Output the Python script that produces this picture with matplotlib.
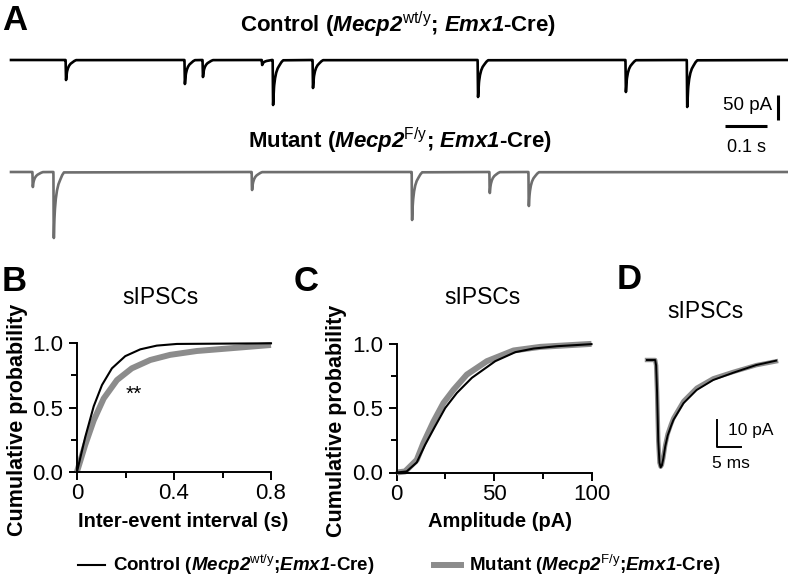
import matplotlib
matplotlib.use("Agg")
import matplotlib.pyplot as plt
from matplotlib.lines import Line2D
import numpy as np

plt.rcParams['font.family'] = ['Liberation Sans', 'DejaVu Sans']
plt.rcParams['mathtext.fontset'] = 'custom'
plt.rcParams['mathtext.rm'] = 'Liberation Sans'
plt.rcParams['mathtext.bf'] = 'Liberation Sans:bold'
plt.rcParams['mathtext.bfit'] = 'Liberation Sans:style=italic:weight=bold'

W, H = 788, 576

# ---- data ----
# A: example traces, events (time s, amplitude pA)
ctrl_times = [0.131, 0.414, 0.457, 0.598, 0.624, 0.719, 1.112, 1.464, 1.610]
ctrl_amps = [40, 48, 34, 10, 90, 56, 74, 64, 94]
mut_times = [0.052, 0.102, 0.574, 0.955, 1.140, 1.233]
mut_amps = [30, 132, 36, 96, 42, 68]
trace_len = 1.848

# B: cumulative inter-event interval (s)
iei_ctrl_x = [0, 0.034, 0.069, 0.103, 0.144, 0.199, 0.261, 0.329, 0.412, 0.8]
iei_ctrl_y = [0, 0.27, 0.51, 0.675, 0.805, 0.90, 0.953, 0.982, 0.995, 1.0]
iei_mut_x = [0, 0.034, 0.069, 0.11, 0.165, 0.226, 0.302, 0.384, 0.494, 0.631, 0.8]
iei_mut_y = [0, 0.21, 0.40, 0.57, 0.714, 0.805, 0.87, 0.91, 0.94, 0.961, 0.987]

# C: cumulative amplitude (pA)
amp_ctrl_x = [0, 5.1, 10.3, 14.6, 19.7, 24.9, 30.9, 38.6, 50.6, 60.9, 70.3, 82.3, 100]
amp_ctrl_y = [0, 0.008, 0.078, 0.215, 0.358, 0.50, 0.617, 0.734, 0.863, 0.933, 0.961, 0.979, 0.995]
amp_mut_x = [0, 4.3, 10.3, 13.7, 18.9, 24.0, 29.2, 36.0, 46.3, 60.0, 73.8, 100]
amp_mut_y = [0, 0.008, 0.098, 0.228, 0.396, 0.539, 0.642, 0.759, 0.863, 0.946, 0.974, 0.997]

# D: averaged sIPSC (ms, pA)
avg_t = [0, 1.7, 1.9, 2.1, 2.35, 2.6, 2.85, 3.1, 3.4, 3.8, 4.3, 5.0, 5.5, 7.6, 10.35, 13.8, 18.0, 22.8, 26.9]
avg_ctrl = [0, 0, -2, -12, -30, -38, -39.7, -39, -36.5, -32, -28, -24.5, -22.2, -16.0, -11.1, -7.4, -4.7, -1.85, -0.25]
avg_mut = [0, 0, -2, -12, -30, -38, -39.5, -38.8, -36.2, -31.5, -27.4, -23.8, -21.5, -15.2, -10.3, -6.8, -4.4, -1.9, -0.5]

ctrl_lbl = r'Control ($\mathbfit{Mecp2}^{\mathrm{wt/y}}$; $\mathbfit{Emx1}$-Cre)'
mut_lbl = r'Mutant ($\mathbfit{Mecp2}^{\mathrm{F/y}}$; $\mathbfit{Emx1}$-Cre)'
ctrl_leg = r'Control ($\mathbfit{Mecp2}^{\mathrm{wt/y}}$;$\mathbfit{Emx1}$-Cre)'
mut_leg = r'Mutant ($\mathbfit{Mecp2}^{\mathrm{F/y}}$;$\mathbfit{Emx1}$-Cre)'

BLACK = '#000000'
GRAY_TR = '#6e6e6e'
GRAY = '#8c8c8c'


def fx(x):
    return x / W


def fy(y):
    return 1 - y / H


def build_trace(times, amps, t_end):
    # each event drawn with the averaged sIPSC shape from panel D
    tt = np.array(avg_t) / 1000.0
    shape = np.array(avg_ctrl) / min(avg_ctrl)
    peak = tt[np.argmax(shape)]
    ts, ys = [0.0], [0.0]
    for i, (t0, a) in enumerate(zip(times, amps)):
        start = t0 - peak
        nxt = times[i + 1] - peak if i + 1 < len(times) else t_end
        seg = start + tt
        keep = seg < nxt
        ts.extend(seg[keep])
        ys.extend(-a * shape[keep])
    ts.append(t_end)
    ys.append(0.0)
    return np.array(ts), np.array(ys)


fig = plt.figure(figsize=(W / 100, H / 100), dpi=100)

# ---- panel A ----
axA = fig.add_axes([0, fy(250), 1, (250 - 40) / H])
axA.set_xlim(-11 / 420, 777 / 420)
axA.set_ylim(-380, 40)
axA.axis('off')
t, y = build_trace(ctrl_times, ctrl_amps, trace_len)
axA.plot(t, y, color=BLACK, lw=1.9)
t, y = build_trace(mut_times, mut_amps, trace_len)
axA.plot(t, y - 224, color=GRAY_TR, lw=1.9)
# scale bars
axA.plot([1.826, 1.826], [-70, -120], color=BLACK, lw=2.2, solid_capstyle='butt')
axA.plot([1.700, 1.800], [-132, -132], color=BLACK, lw=2.2, solid_capstyle='butt')
axA.text(1.812, -92, '50 pA', ha='right', va='center', fontsize=13.5)
axA.text(1.750, -176, '0.1 s', ha='center', va='center', fontsize=13)

fig.text(fx(398), fy(31.7), ctrl_lbl, ha='center', va='baseline', fontsize=16, fontweight='bold')
fig.text(fx(400), fy(148), mut_lbl, ha='center', va='baseline', fontsize=16, fontweight='bold')

# panel letters
for letter, x, y in [('A', 2, 30), ('B', 2, 291), ('C', 294, 291), ('D', 617, 289)]:
    fig.text(fx(x), fy(y), letter, ha='left', va='baseline', fontsize=25, fontweight='bold')


def style_cdf(ax, xlab, xlab_x):
    for s in ['top', 'right']:
        ax.spines[s].set_visible(False)
    for s in ['left', 'bottom']:
        ax.spines[s].set_linewidth(1.4)
    ax.tick_params(which='major', length=6, width=1.4, labelsize=16, pad=2)
    ax.tick_params(which='minor', length=4.5, width=1.4)
    ax.tick_params(axis='y', which='major', pad=4)
    ax.set_ylim(0, 1)
    ax.set_yticks([0, 0.5, 1.0])
    ax.set_yticklabels(['0.0', '0.5', '1.0'])
    ax.set_yticks([0.25, 0.75], minor=True)
    ax.set_ylabel('Cumulative probability', fontsize=15.5, fontweight='bold')
    ax.yaxis.set_label_coords(-0.255, 0.40)
    ax.set_xlabel(xlab, fontsize=14.5, fontweight='bold')
    ax.xaxis.set_label_coords(xlab_x, -0.31)


# ---- panel B ----
axB = fig.add_axes([fx(77), fy(471.7), (271 - 77) / W, (471.7 - 343.3) / H])
axB.plot(iei_mut_x, iei_mut_y, color=GRAY, lw=4.3, clip_on=False, solid_capstyle='butt')
axB.plot(iei_ctrl_x, iei_ctrl_y, color=BLACK, lw=1.5, clip_on=False)
axB.set_xlim(0, 0.8)
axB.set_xticks([0, 0.4, 0.8])
axB.set_xticklabels(['0', '0.4', '0.8'])
axB.set_xticks([0.2, 0.6], minor=True)
style_cdf(axB, 'Inter-event interval (s)', 0.546)
axB.text(0.233, 0.6, '**', ha='center', va='center', fontsize=15)
fig.text(fx(160), fy(298), 'sIPSCs', ha='center', va='center', fontsize=16.5)

# ---- panel C ----
axC = fig.add_axes([fx(396.7), fy(472.5), (591.5 - 396.7) / W, (472.5 - 343.5) / H])
axC.plot(amp_mut_x, amp_mut_y, color=GRAY, lw=4.3, clip_on=False, solid_capstyle='butt')
axC.plot(amp_ctrl_x, amp_ctrl_y, color=BLACK, lw=1.5, clip_on=False)
axC.set_xlim(0, 100)
axC.set_xticks([0, 50, 100])
axC.set_xticks([25, 75], minor=True)
style_cdf(axC, 'Amplitude (pA)', 0.53)
fig.text(fx(482), fy(298), 'sIPSCs', ha='center', va='center', fontsize=16.5)

# ---- panel D ----
axD = fig.add_axes([fx(640), fy(480), (788 - 640) / W, 150 / H])
axD.set_xlim(-1.46, 29.4)
axD.set_ylim(-44.4, 11.1)
axD.axis('off')
axD.plot(avg_t, avg_mut, color=GRAY, lw=3.2)
axD.plot(avg_t, avg_ctrl, color=BLACK, lw=1.4)
axD.plot([14.58, 14.58, 19.58], [-22.2, -32.2, -32.2], color=BLACK, lw=1.4)
axD.text(16.9, -25.9, '10 pA', ha='left', va='center', fontsize=12.5)
axD.text(17.5, -38.3, '5 ms', ha='center', va='center', fontsize=12.5)
fig.text(fx(705), fy(312), 'sIPSCs', ha='center', va='center', fontsize=16.5)

# ---- legend ----
leg_kw = dict(frameon=False, prop={'weight': 'bold', 'size': 13.5}, handlelength=1.45,
              handletextpad=0.4, borderpad=0, borderaxespad=0)
fig.legend([Line2D([], [], color=BLACK, lw=1.5)], [ctrl_leg], loc='center left',
           bbox_to_anchor=(fx(78), fy(565)), **leg_kw)
fig.legend([Line2D([], [], color=GRAY, lw=4.3)], [mut_leg], loc='center left',
           bbox_to_anchor=(fx(434), fy(565)), **leg_kw)

fig.savefig('out.png', dpi=100)
